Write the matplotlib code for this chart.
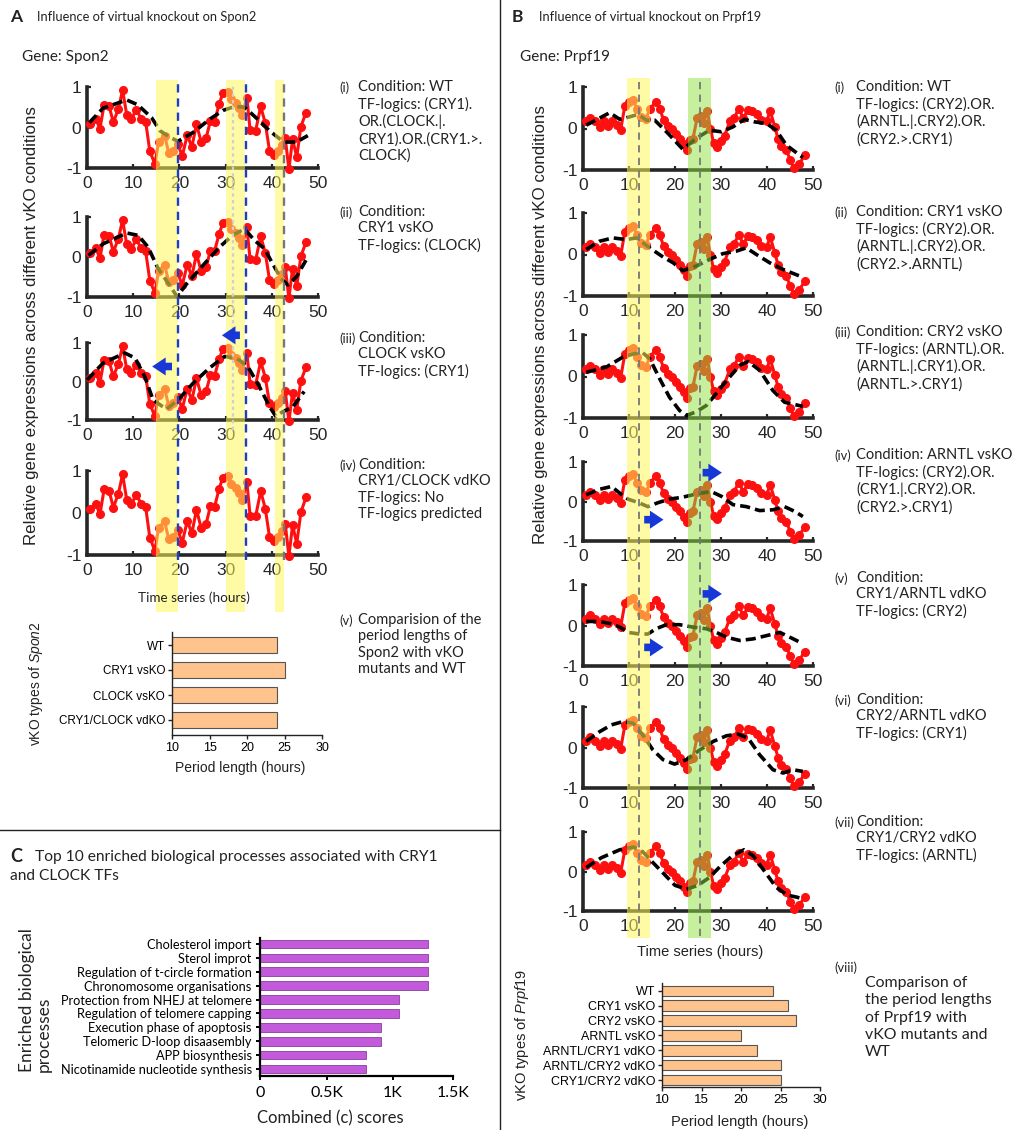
import matplotlib
matplotlib.use('Agg')
import matplotlib.pyplot as plt
from matplotlib.patches import FancyArrowPatch
from matplotlib.lines import Line2D

plt.rcParams['axes.unicode_minus'] = False
plt.rcParams['mathtext.fontset'] = 'custom'
plt.rcParams['mathtext.it'] = 'Liberation Sans:italic'
plt.rcParams['mathtext.rm'] = 'Liberation Sans'

# ---------------- data ----------------
spon2_hours = [0.6, 1.9, 2.8, 3.7, 4.8, 5.7, 6.8, 7.7, 8.6, 9.6, 10.7, 11.7, 12.7, 13.6, 14.7,
               15.5, 16.8, 17.7, 18.6, 19.7, 20.6, 21.7, 22.7, 23.7, 24.7, 25.8, 26.7, 27.6, 28.6,
               29.4, 30.5, 31.2, 32.2, 33.0, 33.6, 34.6, 35.3, 36.5, 37.6, 38.6, 39.5, 40.4, 41.3,
               42.2, 42.9, 43.7, 44.5, 45.4, 46.3, 47.4]
spon2_expr = [0.09, 0.22, -0.03, 0.56, 0.52, 0.13, 0.46, 0.92, 0.32, 0.21, 0.44, 0.22, 0.14, -0.59,
              -0.9, -0.35, -0.2, -0.63, -0.57, -0.41, -0.71, -0.19, -0.48, 0.08, -0.35, -0.25, 0.16,
              0.14, 0.58, 0.84, 0.87, 0.7, 0.6, 0.48, 0.3, 0.74, -0.06, -0.08, 0.52, 0.1, -0.57,
              -0.67, -0.57, -0.43, -0.25, -1.03, -0.29, -0.73, 0.02, 0.37]

prpf19_hours = [0.7, 1.6, 2.5, 3.6, 4.5, 5.4, 6.4, 7.4, 8.2, 9.1, 10.0, 10.9, 11.7, 12.7, 13.6,
                14.6, 15.8, 16.7, 17.5, 18.5, 19.4, 20.3, 21.0, 21.9, 22.5, 23.2, 23.9, 24.8, 25.7,
                26.2, 27.0, 27.7, 28.4, 29.1, 30.1, 30.8, 31.9, 32.8, 33.9, 34.8, 35.9, 36.8, 37.8,
                38.8, 39.9, 40.7, 41.7, 42.4, 43.1, 44.2, 45.1, 45.8, 47.0, 48.2]
prpf19_expr = [0.17, 0.25, 0.17, 0.04, 0.17, 0.06, 0.17, 0.08, -0.03, 0.55, 0.64, 0.69, 0.47, 0.28,
               0.23, 0.48, 0.64, 0.47, 0.21, 0.06, 0.0, -0.13, -0.25, -0.38, -0.53, -0.28, -0.25,
               0.25, 0.3, 0.14, 0.42, 0.0, -0.36, -0.45, -0.3, -0.17, 0.17, 0.25, 0.48, 0.25, 0.45,
               0.42, 0.34, 0.21, 0.17, 0.42, 0.04, -0.25, -0.42, -0.53, -0.76, -0.96, -0.85, -0.65]

# predicted (fitted) profiles for each condition
spon2_fit_wt_h = [0.5, 3.5, 8.6, 11.0, 14.0, 15.8, 17.9, 19.7, 23.0, 26.5, 29.4, 32.0, 34.1, 36.6, 39.5, 41.7, 43.1, 45.3, 47.8]
spon2_fit_wt_v = [0.12, 0.48, 0.68, 0.56, 0.24, -0.08, -0.24, -0.34, -0.12, 0.2, 0.42, 0.52, 0.5, 0.24, -0.08, -0.28, -0.36, -0.36, -0.2]
spon2_fit_cry1_h = [0.3, 3.5, 8.6, 11.1, 13.2, 15.4, 17.6, 19.5, 21.5, 25.1, 28.7, 31.6, 34.1, 36.3, 38.4, 40.2, 42.0, 43.5, 45.3, 47.4]
spon2_fit_cry1_v = [0.04, 0.33, 0.6, 0.54, 0.25, -0.29, -0.66, -0.99, -0.68, -0.21, 0.25, 0.55, 0.7, 0.41, 0.21, -0.17, -0.54, -0.7, -0.5, -0.08]
spon2_fit_clock_h = [0.0, 3.5, 8.2, 10.4, 12.5, 14.3, 17.2, 19.7, 23.0, 26.5, 29.8, 32.3, 34.8, 37.3, 39.5, 40.9, 42.4, 44.5, 47.0]
spon2_fit_clock_v = [0.04, 0.48, 0.74, 0.61, 0.13, -0.48, -0.72, -0.48, -0.04, 0.35, 0.65, 0.61, 0.39, -0.13, -0.65, -0.91, -0.78, -0.67, -0.26]

prpf19_fit_wt_h = [0.7, 5.8, 8.0, 10.1, 12.0, 13.8, 15.6, 18.5, 21.7, 24.6, 27.5, 30.1, 32.6, 35.1, 37.3, 39.9, 42.0, 44.2, 47.8]
prpf19_fit_wt_v = [0.08, 0.38, 0.22, 0.28, 0.34, 0.2, 0.2, -0.12, -0.5, -0.24, -0.04, -0.08, 0.04, 0.22, 0.16, 0.12, -0.04, -0.4, -0.7]
prpf19_fit_cry1_h = [0.7, 3.6, 6.5, 9.4, 11.6, 14.5, 17.4, 19.6, 21.7, 24.6, 27.5, 30.4, 33.3, 35.5, 37.7, 40.6, 43.5, 47.8]
prpf19_fit_cry1_v = [0.12, 0.32, 0.4, 0.36, 0.4, 0.16, -0.06, -0.2, -0.39, -0.28, -0.12, 0.02, 0.08, 0.16, 0.0, -0.2, -0.36, -0.55]
prpf19_fit_cry2_h = [0.7, 5.1, 8.7, 11.2, 13.0, 14.5, 16.7, 18.8, 21.0, 22.5, 24.6, 26.8, 28.3, 31.2, 34.1, 35.9, 38.4, 41.3, 43.8, 47.8]
prpf19_fit_cry2_v = [0.1, 0.23, 0.47, 0.55, 0.57, 0.43, -0.06, -0.5, -0.82, -0.94, -0.85, -0.7, -0.5, -0.1, 0.27, 0.36, 0.15, -0.34, -0.62, -0.72]
prpf19_fit_arntl_h = [0.7, 3.6, 6.2, 8.0, 9.8, 12.3, 14.1, 16.3, 18.8, 21.7, 25.4, 27.9, 30.1, 32.6, 35.5, 38.4, 41.3, 43.8, 46.0, 47.8]
prpf19_fit_arntl_v = [0.17, 0.31, 0.38, 0.21, 0.06, -0.04, -0.13, -0.03, 0.06, 0.11, 0.21, 0.25, 0.13, -0.08, -0.13, -0.23, -0.21, -0.13, -0.25, -0.38]
prpf19_fit_cry1arntl_h = [0.7, 3.6, 6.2, 8.0, 9.8, 12.3, 14.1, 15.9, 18.1, 21.0, 23.9, 26.8, 29.0, 31.2, 34.1, 37.0, 39.9, 42.8, 45.7, 47.8]
prpf19_fit_cry1arntl_v = [0.1, 0.1, 0.04, -0.04, -0.17, -0.21, -0.21, -0.08, 0.02, 0.02, -0.04, -0.08, -0.17, -0.29, -0.37, -0.33, -0.25, -0.17, -0.33, -0.45]
prpf19_fit_cry2arntl_h = [0.7, 3.6, 6.2, 8.7, 10.9, 13.0, 15.2, 17.4, 19.9, 22.5, 25.4, 28.3, 31.2, 33.7, 35.9, 38.4, 41.3, 43.5, 45.7, 47.8]
prpf19_fit_cry2arntl_v = [0.15, 0.39, 0.56, 0.64, 0.6, 0.31, -0.06, -0.3, -0.41, -0.3, -0.06, 0.15, 0.29, 0.33, 0.23, -0.18, -0.55, -0.63, -0.55, -0.59]
prpf19_fit_cry1cry2_h = [0.7, 4.0, 8.0, 11.0, 13.0, 15.0, 17.5, 20.0, 22.5, 25.0, 27.5, 30.0, 32.5, 35.0, 37.0, 39.5, 42.0, 44.5, 46.5, 48.0]
prpf19_fit_cry1cry2_v = [0.1, 0.35, 0.55, 0.62, 0.5, 0.25, -0.05, -0.35, -0.45, -0.35, -0.15, 0.15, 0.4, 0.55, 0.4, 0.0, -0.4, -0.6, -0.65, -0.7]

# highlighted windows (hours)
spon2_windows = [(15.0, 19.7), (30.0, 34.3), (40.7, 42.6)]
prpf19_yellow = [(9.6, 14.5)]
prpf19_green = [(22.8, 27.9)]

spon2_types = ['WT', 'CRY1 vsKO', 'CLOCK vsKO', 'CRY1/CLOCK vdKO']
spon2_periods = [24, 25, 24, 24]
prpf19_types = ['WT', 'CRY1 vsKO', 'CRY2 vsKO', 'ARNTL vsKO', 'ARNTL/CRY1 vdKO', 'ARNTL/CRY2 vdKO', 'CRY1/CRY2 vdKO']
prpf19_periods = [24, 26, 27, 20, 22, 25, 25]

go_terms = ['Cholesterol import', 'Sterol improt', 'Regulation of t-circle formation',
            'Chronomosome organisations', 'Protection from NHEJ at telomere',
            'Regulation of telomere capping', 'Execution phase of apoptosis',
            'Telomeric D-loop disaasembly', 'APP biosynthesis', 'Nicotinamide nucleotide synthesis']
go_scores = [1260, 1260, 1260, 1260, 1045, 1045, 908, 908, 793, 793]

# ---------------- figure ----------------
W, H = 1015, 1130
fig = plt.figure(figsize=(W / 100, H / 100), dpi=100)

def add_ax(l, t, w, h):
    return fig.add_axes([l / W, 1 - (t + h) / H, w / W, h / H])

def ftext(x, y, s, **kw):
    return fig.text(x / W, 1 - y / H, s, **kw)

DARK = '#262626'
RED = '#FF1010'
TXT = dict(family='Lato', color='#222222')

def ts_axes(l, t, w, h, xs, ys, fh=None, fv=None):
    ax = add_ax(l, t, w, h)
    ax.plot(xs, ys, '-o', color=RED, lw=2.2, ms=5.5, clip_on=False, zorder=3)
    if fh is not None:
        ax.plot(fh, fv, color='black', lw=2.6, ls=(0, (2.8, 1.4)), clip_on=False, zorder=4)
    ax.set_xlim(0, 50)
    ax.set_ylim(-1, 1)
    ax.set_xticks([0, 10, 20, 30, 40, 50])
    ax.set_yticks([-1, 0, 1])
    for s in ['top', 'right']:
        ax.spines[s].set_visible(False)
    for s in ['left', 'bottom']:
        ax.spines[s].set_linewidth(2.6)
        ax.spines[s].set_color(DARK)
    ax.tick_params(direction='in', length=3, width=1.6, color=DARK, labelcolor=DARK, labelsize=12.5)
    ax.tick_params(axis='x', pad=6)
    ax.tick_params(axis='y', pad=4)
    for lab in ax.get_xticklabels() + ax.get_yticklabels():
        lab.set_family('Liberation Sans')
    ax.patch.set_visible(False)
    return ax

def blue_arrow(ax, x0, x1, y):
    p = FancyArrowPatch((x0, y), (x1, y), transform=ax.transData,
                        arrowstyle='simple,head_length=0.75,head_width=1.0,tail_width=0.42',
                        mutation_scale=13, color='#1737D6', lw=0)
    fig.add_artist(p)

# ---- Panel A time series ----
a_rows = [(87, 81), (217, 80), (343, 77), (471, 84)]
a_fits = [(spon2_fit_wt_h, spon2_fit_wt_v), (spon2_fit_cry1_h, spon2_fit_cry1_v),
          (spon2_fit_clock_h, spon2_fit_clock_v), (None, None)]
a_axes = []
for (t, h), (fh, fv) in zip(a_rows, a_fits):
    a_axes.append(ts_axes(87, t, 231, h, spon2_hours, spon2_expr, fh, fv))
blue_arrow(a_axes[2], 19.0, 13.5, 0.39)
blue_arrow(a_axes[2], 33.7, 28.6, 1.2)

# ---- Panel B time series ----
b_rows = [(87, 83), (213, 83), (335, 83), (462, 79), (585, 81), (707, 81), (832, 79)]
b_fits = [(prpf19_fit_wt_h, prpf19_fit_wt_v), (prpf19_fit_cry1_h, prpf19_fit_cry1_v),
          (prpf19_fit_cry2_h, prpf19_fit_cry2_v), (prpf19_fit_arntl_h, prpf19_fit_arntl_v),
          (prpf19_fit_cry1arntl_h, prpf19_fit_cry1arntl_v),
          (prpf19_fit_cry2arntl_h, prpf19_fit_cry2arntl_v),
          (prpf19_fit_cry1cry2_h, prpf19_fit_cry1cry2_v)]
b_axes = []
for (t, h), (fh, fv) in zip(b_rows, b_fits):
    b_axes.append(ts_axes(583, t, 230, h, prpf19_hours, prpf19_expr, fh, fv))
blue_arrow(b_axes[3], 12.7, 18.1, -0.46)
blue_arrow(b_axes[3], 25.4, 30.8, 0.73)
blue_arrow(b_axes[4], 12.7, 18.1, -0.54)
blue_arrow(b_axes[4], 25.4, 30.8, 0.78)

# ---- band overlays ----
YEL = '#FFF75A'
GRN = '#8FE03F'
ovA_top, ovA_h = 80, 532
ovA = add_ax(87, ovA_top, 231, ovA_h)
ovA.set_xlim(0, 50); ovA.set_ylim(0, 1); ovA.axis('off')
for lo, hi in spon2_windows:
    ovA.axvspan(lo, hi, color=YEL, alpha=0.55, lw=0)
fA = lambda py: 1 - (py - ovA_top) / ovA_h
for x in [19.8, 34.5]:
    ovA.axvline(x, fA(560), fA(82), color='#1f3fbf', ls=(0, (3.5, 2.5)), lw=1.7)
ovA.axvline(42.6, fA(560), fA(82), color='#777777', ls=(0, (3.5, 2.5)), lw=1.7)
ovA.axvline(31.6, fA(430), fA(85), color='#d0d0d0', ls=(0, (1.5, 1.5)), lw=1.6)

ovB_top, ovB_h = 78, 860
ovB = add_ax(583, ovB_top, 230, ovB_h)
ovB.set_xlim(0, 50); ovB.set_ylim(0, 1); ovB.axis('off')
for lo, hi in prpf19_yellow:
    ovB.axvspan(lo, hi, color=YEL, alpha=0.55, lw=0)
for lo, hi in prpf19_green:
    ovB.axvspan(lo, hi, color=GRN, alpha=0.5, lw=0)
fB = lambda py: 1 - (py - ovB_top) / ovB_h
for x in [12.1, 25.4]:
    ovB.axvline(x, fB(936), fB(80), color='#777777', ls=(0, (4, 3)), lw=1.3)

# ---- bar charts ----
def style_bar(ax, fs):
    for s in ['top', 'right']:
        ax.spines[s].set_visible(False)
    for s in ['left', 'bottom']:
        ax.spines[s].set_linewidth(1.0)
        ax.spines[s].set_color('#222222')
    ax.tick_params(length=3, width=1, color='#222222', labelsize=fs, pad=2)

axbA = add_ax(172, 632, 150, 103)
axbA.barh(range(len(spon2_types)), spon2_periods, height=0.62, color='#FFC48E',
          edgecolor='#555555', lw=0.8)
axbA.set_xlim(10, 30); axbA.set_ylim(3.6, -0.52)
axbA.set_yticks(range(len(spon2_types)))
axbA.set_yticklabels(spon2_types, family='Liberation Sans')
axbA.set_xticks([10, 15, 20, 25, 30])
style_bar(axbA, 8.4)
axbA.tick_params(axis='x', labelsize=9)
for lab in axbA.get_xticklabels():
    lab.set_family('Liberation Sans')

axbB = add_ax(662, 983, 158, 104)
axbB.barh(range(len(prpf19_types)), prpf19_periods, height=0.7, color='#FFC48E',
          edgecolor='#555555', lw=0.8)
axbB.set_xlim(10, 30); axbB.set_ylim(6.46, -0.52)
axbB.set_yticks(range(len(prpf19_types)))
axbB.set_yticklabels(prpf19_types, family='Liberation Sans')
axbB.set_xticks([10, 15, 20, 25, 30])
style_bar(axbB, 9.0)
axbB.tick_params(axis='x', labelsize=9.5)
for lab in axbB.get_xticklabels():
    lab.set_family('Liberation Sans')

axC = add_ax(260, 938, 193, 138)
axC.barh(range(len(go_terms)), go_scores, height=0.62, color='#C35ADB',
         edgecolor='#8a3d9e', lw=0.6)
axC.set_xlim(0, 1450); axC.set_ylim(9.5, -0.43)
axC.set_yticks(range(len(go_terms)))
axC.set_yticklabels(go_terms, family='Lato')
axC.set_xticks([0, 500, 1000, 1450])
axC.set_xticklabels(['0', '0.5K', '1K', '1.5K'], family='Lato')
for s in ['top', 'right']:
    axC.spines[s].set_visible(False)
axC.spines['left'].set_linewidth(1.6)
axC.spines['bottom'].set_linewidth(1.6)
axC.tick_params(axis='y', length=3, width=1.4, labelsize=9.2, pad=3)
axC.tick_params(axis='x', length=3, width=1.4, labelsize=11.5, pad=4)

# ---------------- text ----------------
ftext(10, 17, 'A', fontsize=12.5, weight='bold', va='center', **TXT)
ftext(37, 17, 'Influence of virtual knockout on Spon2', fontsize=9.3, va='center', **TXT)
ftext(22, 57, 'Gene: Spon2', fontsize=11, va='center', **TXT)
ftext(512, 17, 'B', fontsize=12.5, weight='bold', va='center', **TXT)
ftext(539, 17, 'Influence of virtual knockout on Prpf19', fontsize=9.3, va='center', **TXT)
ftext(520, 57, 'Gene: Prpf19', fontsize=11, va='center', **TXT)
ftext(10, 857, 'C', fontsize=13, weight='bold', va='center', **TXT)
ftext(35, 857, 'Top 10 enriched biological processes associated with CRY1', fontsize=11.2, va='center', **TXT)
ftext(10, 876, 'and CLOCK TFs', fontsize=11.2, va='center', **TXT)

ftext(32, 326, 'Relative gene expressions across different vKO conditions', rotation=90,
      ha='center', va='center', fontsize=12.2, family='Liberation Sans', color='#222222')
ftext(540, 325, 'Relative gene expressions across different vKO conditions', rotation=90,
      ha='center', va='center', fontsize=12.2, family='Liberation Sans', color='#222222')
ftext(194, 598, 'Time series (hours)', ha='center', va='center', fontsize=9.7, **TXT)
ftext(700, 952, 'Time series (hours)', ha='center', va='center', fontsize=10.5,
      family='Liberation Sans', color='#222222')

ftext(36, 684, r'vKO types of $\mathit{Spon2}$', rotation=90, ha='center', va='center',
      fontsize=10, family='Liberation Sans', color='#222222')
ftext(240, 768, 'Period length (hours)', ha='center', va='center', fontsize=10,
      family='Liberation Sans', color='#222222')
ftext(522, 1035, r'vKO types of $\mathit{Prpf19}$', rotation=90, ha='center', va='center',
      fontsize=10.5, family='Liberation Sans', color='#222222')
ftext(740, 1122, 'Period length (hours)', ha='center', va='center', fontsize=10.5,
      family='Liberation Sans', color='#222222')

ftext(35, 1000, 'Enriched biological\nprocesses', rotation=90, ha='center', va='center',
      multialignment='left', fontsize=12.5, linespacing=1.05, **TXT)
ftext(330, 1118, 'Combined (c) scores', ha='center', va='center', fontsize=12, **TXT)

a_desc = [
    (80, '(i)', 'Condition: WT\nTF-logics: (CRY1).\nOR.(CLOCK.|.\nCRY1).OR.(CRY1.>.\nCLOCK)'),
    (205, '(ii)', 'Condition:\nCRY1 vsKO\nTF-logics: (CLOCK)'),
    (331, '(iii)', 'Condition:\nCLOCK vsKO\nTF-logics: (CRY1)'),
    (458, '(iv)', 'Condition:\nCRY1/CLOCK vdKO\nTF-logics: No\nTF-logics predicted'),
    (613, '(v)', 'Comparision of the\nperiod lengths of\nSpon2 with vKO\nmutants and WT'),
]
for y, lab, s in a_desc:
    ftext(339, y + 1.5, lab, fontsize=9.3, va='top', **TXT)
    ftext(358, y, s, fontsize=10.5, va='top', linespacing=1.22, **TXT)

b_desc = [
    (80, '(i)', 'Condition: WT\nTF-logics: (CRY2).OR.\n(ARNTL.|.CRY2).OR.\n(CRY2.>.CRY1)'),
    (205, '(ii)', 'Condition: CRY1 vsKO\nTF-logics: (CRY2).OR.\n(ARNTL.|.CRY2).OR.\n(CRY2.>.ARNTL)'),
    (325, '(iii)', 'Condition: CRY2 vsKO\nTF-logics: (ARNTL).OR.\n(ARNTL.|.CRY1).OR.\n(ARNTL.>.CRY1)'),
    (448, '(iv)', 'Condition: ARNTL vsKO\nTF-logics: (CRY2).OR.\n(CRY1.|.CRY2).OR.\n(CRY2.>.CRY1)'),
    (571, '(v)', 'Condition:\nCRY1/ARNTL vdKO\nTF-logics: (CRY2)'),
    (693, '(vi)', 'Condition:\nCRY2/ARNTL vdKO\nTF-logics: (CRY1)'),
    (815, '(vii)', 'Condition:\nCRY1/CRY2 vdKO\nTF-logics: (ARNTL)'),
]
for y, lab, s in b_desc:
    ftext(834, y + 1.5, lab, fontsize=9.3, va='top', **TXT)
    ftext(856, y, s, fontsize=10.5, va='top', linespacing=1.22, **TXT)

ftext(834, 968, '(viii)', fontsize=9.3, va='center', **TXT)
ftext(865, 976, 'Comparison of\nthe period lengths\nof Prpf19 with\nvKO mutants and\nWT',
      fontsize=11.4, va='top', linespacing=1.3, **TXT)

# dividers
fig.add_artist(Line2D([500 / W, 500 / W], [0, 1], color='#222222', lw=1.0))
fig.add_artist(Line2D([0, 500 / W], [1 - 830 / H, 1 - 830 / H], color='#222222', lw=1.0))

fig.savefig('out.png', dpi=100, facecolor='white')
